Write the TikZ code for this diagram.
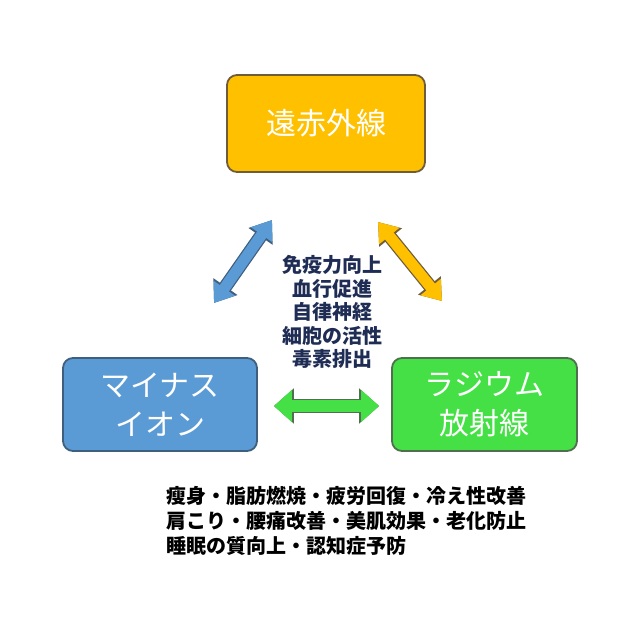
\documentclass[tikz,border=0pt]{standalone}
\usepackage{fontspec}
\newfontfamily\jp{Noto Sans CJK JP}
\usetikzlibrary{arrows.meta}
\definecolor{kiiro}{HTML}{FFC000}
\definecolor{kiirosen}{HTML}{6E5C3A}
\definecolor{ao}{HTML}{5B9BD5}
\definecolor{aosen}{HTML}{3F5F7F}
\definecolor{midori}{HTML}{45E045}
\definecolor{midorisen}{HTML}{4F6F4F}
\definecolor{kon}{HTML}{1F2D55}
\begin{document}
\begin{tikzpicture}[x=1pt,y=-1pt,
  box/.style={fill=#1, line width=1.8pt, rounded corners=10pt, text=white,
    align=center, font=\jp\fontsize{30}{39}\selectfont},
  fatarrow/.style 2 args={draw=#1, line width=11pt,
    arrows={Triangle[width=25pt,length=18pt]-Triangle[width=25pt,length=18pt]},
    preaction={draw=#2, line width=13.5pt,
      arrows={Triangle[width=28pt,length=20pt]-Triangle[width=28pt,length=20pt]}}},
  widearrow/.style 2 args={draw=#1, line width=12pt,
    arrows={Triangle[width=31pt,length=18pt]-Triangle[width=31pt,length=18pt]},
    preaction={draw=#2, line width=14.5pt,
      arrows={Triangle[width=34pt,length=20pt]-Triangle[width=34pt,length=20pt]}}}]
\useasboundingbox (0,0) rectangle (640,640);
% boxes
\node[box=kiiro, draw=kiirosen, minimum width=198pt, minimum height=97pt] (sekigai) at (326,123.5) {遠赤外線};
\node[box=ao, draw=aosen, minimum width=194pt, minimum height=93pt] (ion) at (160,404.5) {マイナス\\イオン};
\node[box=midori, draw=midorisen, minimum width=185pt, minimum height=93pt] (radium) at (484.5,404.5) {ラジウム\\放射線};
% arrow ends
\coordinate (ao1) at (272,220);
\coordinate (ao2) at (214,303);
\coordinate (ki1) at (378,222);
\coordinate (ki2) at (442,301);
\draw[fatarrow={ao}{aosen}] (ao1) -- (ao2);
\draw[fatarrow={kiiro}{kiirosen}] (ki1) -- (ki2);
\draw[widearrow={midori}{midorisen}] ([xshift=16pt]ion.east |- 0,406) coordinate (mi1) -- ([xshift=-12pt]radium.west |- 0,406) coordinate (mi2);
% effects
\node[font=\jp\bfseries\fontsize{20}{23.5}\selectfont, text=kon, align=center] (kouka) at (332,312) {免疫力向上\\血行促進\\自律神経\\細胞の活性\\毒素排出};
\node[font=\jp\bfseries\fontsize{20}{25}\selectfont, align=left, anchor=west] (sonota) at (163,521) {瘦身・脂肪燃焼・疲労回復・冷え性改善\\肩こり・腰痛改善・美肌効果・老化防止\\睡眠の質向上・認知症予防};
\end{tikzpicture}
\end{document}
